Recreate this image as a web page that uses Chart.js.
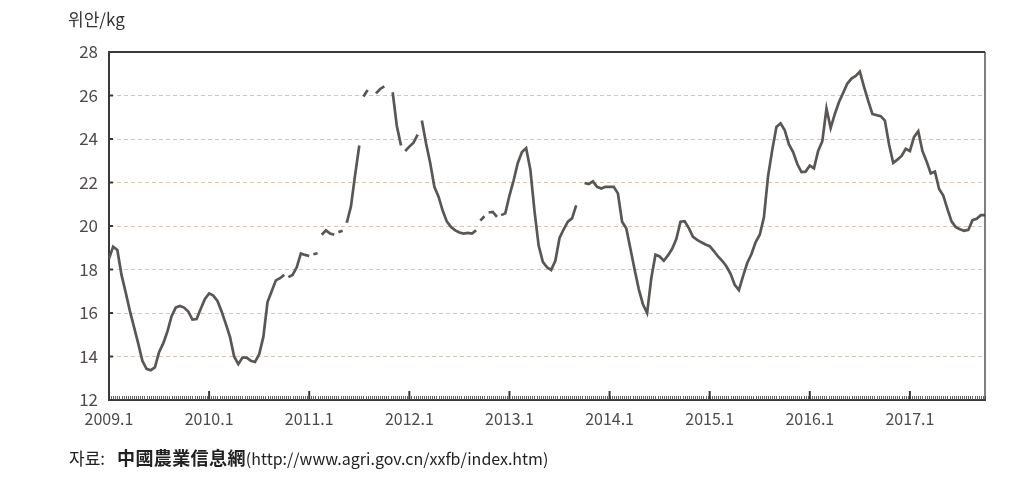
<!DOCTYPE html>
<html>
<head>
<meta charset="utf-8">
<script src="https://cdn.jsdelivr.net/npm/chart.js@4.4.1/dist/chart.umd.min.js"></script>
<style>
  html, body { margin: 0; padding: 0; background: #ffffff; }
  #wrap { position: relative; width: 1010px; height: 480px; }
  #unit { position: absolute; left: 68px; top: 6px; font: 17px 'Noto Sans CJK KR', 'Noto Sans', sans-serif; color: #333; }
  #src { position: absolute; left: 69px; top: 444px; font: 16px 'Noto Sans CJK KR', 'Noto Sans', sans-serif; color: #222; letter-spacing: 0px; white-space: nowrap; }
  #src .k { font-size: 17px; margin-right: 12px; }
  #src b { font-weight: 700; font-size: 18px; letter-spacing: 0.4px; }
</style>
</head>
<body>
<div id="wrap">
  <canvas id="c" width="1010" height="480"></canvas>
  <div id="unit">위안/kg</div>
  <div id="src"><span class="k">자료:</span><b>中國農業信息網</b>(http://www.agri.gov.cn/xxfb/index.htm)</div>
</div>
<script>
// Half-month periods from 2009.1 to 2017.10
const startYear = 2009;
const yearTickLabels = ['2009.1','2010.1','2011.1','2012.1','2013.1','2014.1','2015.1','2016.1','2017.1'];
const yTicks = [12, 14, 16, 18, 20, 22, 24, 26, 28];

// price (위안/kg), one value per half month; null = missing
const prices = [
  18.5, 19.05, 18.9, 17.75, 16.95, 16.1, 15.35, 14.6, 13.8, 13.43,
  13.37, 13.5, 14.2, 14.6, 15.15, 15.85, 16.25, 16.32, 16.25, 16.07,
  15.7, 15.72, 16.2, 16.65, 16.9, 16.8, 16.55, 16.07, 15.5, 14.9,
  14.0, 13.65, 13.95, 13.95, 13.8, 13.75, 14.1, 14.9, 16.5, 17.0,
  17.5, 17.6, 17.75, 17.65, 17.75, 18.1, 18.74, 18.67, 18.62, 18.7,
  18.75, 19.6, 19.8, 19.65, 19.6, 19.72, 19.78, 20.15, 20.9, 22.35,
  23.7, 25.95, 26.25, null, 26.1, 26.3, 26.42, null, 26.15, 24.6,
  23.7, 23.45, 23.65, 23.83, 24.2, 24.85, 23.8, 22.9, 21.8, 21.35,
  20.7, 20.2, 19.95, 19.8, 19.7, 19.65, 19.68, 19.65, 19.8, 20.25,
  20.45, 20.62, 20.65, 20.42, 20.5, 20.58, 21.4, 22.1, 22.9, 23.4,
  23.58, 22.6, 20.7, 19.1, 18.35, 18.1, 17.98, 18.4, 19.45, 19.85,
  20.2, 20.35, 20.95, null, 21.98, 21.93, 22.05, 21.8, 21.72, 21.8,
  21.8, 21.8, 21.5, 20.2, 19.9, 18.95, 18.0, 17.1, 16.4, 16.0,
  17.6, 18.68, 18.6, 18.4, 18.65, 18.95, 19.4, 20.2, 20.22, 19.9,
  19.5, 19.36, 19.25, 19.15, 19.07, 18.85, 18.6, 18.4, 18.15, 17.8,
  17.3, 17.05, 17.7, 18.3, 18.7, 19.25, 19.6, 20.4, 22.3, 23.5,
  24.55, 24.72, 24.4, 23.75, 23.4, 22.85, 22.48, 22.5, 22.78, 22.65,
  23.45, 23.9, 25.4, 24.5, 25.15, 25.7, 26.12, 26.55, 26.78, 26.9,
  27.1, 26.4, 25.75, 25.15, 25.1, 25.05, 24.85, 23.75, 22.9, 23.05,
  23.22, 23.55, 23.45, 24.1, 24.36, 23.45, 22.97, 22.42, 22.5, 21.7,
  21.4, 20.78, 20.2, 19.95, 19.85, 19.78, 19.82, 20.27, 20.33, 20.5,
  20.5
];

// segment starting at these indices is not drawn (short data breaks)
const breaks = [42, 48, 50, 54, 56, 60, 70, 74, 88, 90, 93];

const periods = prices.map((_, h) => {
  const y = startYear + Math.floor(h / 24);
  const m = Math.floor((h % 24) / 2) + 1;
  return y + '.' + m + (h % 2 ? 'b' : 'a');
});

const FONT = "'Noto Sans CJK KR', 'Noto Sans', sans-serif";
const AXIS = '#3b3838';

const framePlugin = {
  id: 'frame',
  afterDatasetsDraw(chart) {
    const { ctx, chartArea: a, scales: { x, y } } = chart;
    ctx.save();
    // minor comb ticks (weekly) along the bottom axis, pointing inward
    ctx.strokeStyle = '#555151';
    ctx.lineWidth = 0.9;
    for (let i = 0; i < periods.length; i++) {
      for (const off of [0, 0.5]) {
        if (i + off > periods.length - 1) continue;
        const p0 = x.getPixelForValue(i);
        const p1 = x.getPixelForValue(Math.min(i + 1, periods.length - 1));
        const px = Math.round(p0 + (p1 - p0) * off) + 0.5;
        ctx.beginPath();
        ctx.moveTo(px, a.bottom);
        ctx.lineTo(px, a.bottom - 4);
        ctx.stroke();
      }
    }
    // major year ticks
    ctx.strokeStyle = AXIS;
    ctx.lineWidth = 2;
    for (let i = 0; i < periods.length; i += 24) {
      const px = x.getPixelForValue(i);
      ctx.beginPath();
      ctx.moveTo(px, a.bottom);
      ctx.lineTo(px, a.bottom - 9);
      ctx.stroke();
    }
    // small y ticks inside
    for (const v of yTicks) {
      const py = y.getPixelForValue(v);
      ctx.beginPath();
      ctx.moveTo(a.left, py);
      ctx.lineTo(a.left + 4, py);
      ctx.stroke();
    }
    // top and right frame
    ctx.strokeStyle = AXIS;
    ctx.lineWidth = 1.8;
    ctx.beginPath();
    ctx.moveTo(a.left, a.top);
    ctx.lineTo(a.right, a.top);
    ctx.stroke();
    ctx.lineWidth = 1.3;
    ctx.beginPath();
    ctx.moveTo(a.right, a.top);
    ctx.lineTo(a.right, a.bottom);
    ctx.stroke();
    ctx.restore();
  }
};

new Chart(document.getElementById('c'), {
  type: 'line',
  data: {
    labels: periods,
    datasets: [{
      data: prices,
      borderColor: '#5a5654',
      borderWidth: 2.7,
      pointRadius: 0,
      tension: 0,
      spanGaps: false,
      segment: {
        borderColor: ctx => breaks.includes(ctx.p0DataIndex) ? 'rgba(0,0,0,0)' : undefined
      }
    }]
  },
  options: {
    responsive: false,
    animation: false,
    layout: { padding: { left: 0, right: 25, top: 52, bottom: 0 } },
    plugins: { legend: { display: false }, tooltip: { enabled: false } },
    scales: {
      x: {
        type: 'category',
        offset: false,
        afterFit(s) { s.height = 80; },
        grid: { display: true, drawOnChartArea: false, drawTicks: false },
        border: { display: true, color: AXIS, width: 2 },
        ticks: {
          autoSkip: false,
          maxRotation: 0,
          minRotation: 0,
          padding: 9,
          color: '#4e4a4a',
          font: { family: FONT, size: 16 },
          callback: (v, i) => (i % 24 === 0 ? yearTickLabels[i / 24] : '')
        }
      },
      y: {
        min: 12,
        max: 28,
        afterFit(s) { s.width = 109; },
        afterBuildTicks(s) { s.ticks = yTicks.map(v => ({ value: v })); },
        grid: { color: '#d3c5b8', lineWidth: 1, drawTicks: false },
        border: { display: true, color: AXIS, width: 2, dash: [4, 3] },
        ticks: {
          padding: 11,
          color: '#4e4a4a',
          font: { family: FONT, size: 17 },
          callback: v => String(v)
        }
      }
    }
  },
  plugins: [framePlugin]
});
</script>
</body>
</html>
